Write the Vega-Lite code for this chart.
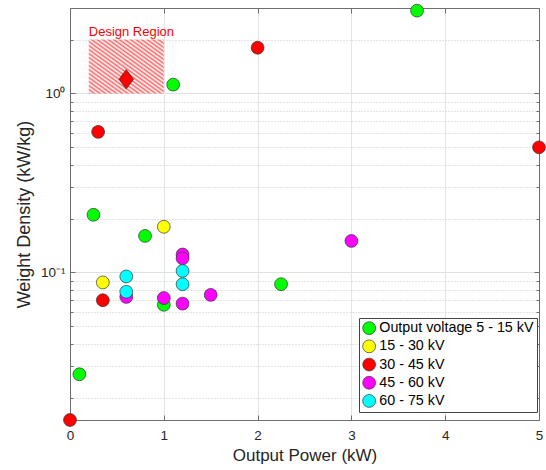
{
  "$schema": "https://vega.github.io/schema/vega-lite/v6.json",
  "width": 469,
  "height": 412,
  "autosize": "none",
  "padding": {"left": 70, "top": 8, "right": 7, "bottom": 50},
  "background": "white",
  "config": {
    "view": {"stroke": null},
    "font": "Liberation Sans",
    "axis": {
      "domainColor": "#6e6e6e",
      "domainWidth": 1,
      "tickColor": "#6e6e6e",
      "labelColor": "#262626",
      "titleColor": "#262626",
      "labelFont": "Liberation Sans",
      "titleFont": "Liberation Sans",
      "titleFontWeight": "normal",
      "labelFontSize": 13.5,
      "titleFontSize": 17
    },
    "legend": {
      "strokeColor": "#444444",
      "fillColor": "white",
      "padding": 3,
      "labelFont": "Liberation Sans",
      "labelFontSize": 14.3,
      "labelColor": "#000000",
      "symbolSize": 165,
      "symbolStrokeWidth": 0.7,
      "symbolStrokeColor": "#333333",
      "symbolType": "circle",
      "rowPadding": 2.2,
      "labelOffset": 3,
      "cornerRadius": 0
    }
  },
  "datasets": {
    "region": [{"P1": 0.2, "P2": 1.0, "W1": 1.0, "W2": 2.0, "label": "Design Region"}],
    "optimum": [{"P": 0.6, "W": 1.2}],
    "points": [
      {"P": 3.7, "W": 2.9, "V": "Output voltage 5 - 15 kV"},
      {"P": 1.1, "W": 1.12, "V": "Output voltage 5 - 15 kV"},
      {"P": 0.25, "W": 0.21, "V": "Output voltage 5 - 15 kV"},
      {"P": 0.8, "W": 0.16, "V": "Output voltage 5 - 15 kV"},
      {"P": 1.0, "W": 0.066, "V": "Output voltage 5 - 15 kV"},
      {"P": 2.25, "W": 0.086, "V": "Output voltage 5 - 15 kV"},
      {"P": 0.1, "W": 0.027, "V": "Output voltage 5 - 15 kV"},
      {"P": 1.0, "W": 0.18, "V": "15 - 30 kV"},
      {"P": 0.35, "W": 0.088, "V": "15 - 30 kV"},
      {"P": 0.3, "W": 0.61, "V": "30 - 45 kV"},
      {"P": 2.0, "W": 1.8, "V": "30 - 45 kV"},
      {"P": 5.0, "W": 0.5, "V": "30 - 45 kV"},
      {"P": 0.35, "W": 0.07, "V": "30 - 45 kV"},
      {"P": 0.0, "W": 0.015, "V": "30 - 45 kV"},
      {"P": 3.0, "W": 0.15, "V": "45 - 60 kV"},
      {"P": 1.2, "W": 0.126, "V": "45 - 60 kV"},
      {"P": 1.2, "W": 0.12, "V": "45 - 60 kV"},
      {"P": 0.6, "W": 0.073, "V": "45 - 60 kV"},
      {"P": 1.0, "W": 0.072, "V": "45 - 60 kV"},
      {"P": 1.2, "W": 0.067, "V": "45 - 60 kV"},
      {"P": 1.5, "W": 0.075, "V": "45 - 60 kV"},
      {"P": 0.6, "W": 0.095, "V": "60 - 75 kV"},
      {"P": 0.6, "W": 0.078, "V": "60 - 75 kV"},
      {"P": 1.2, "W": 0.102, "V": "60 - 75 kV"},
      {"P": 1.2, "W": 0.086, "V": "60 - 75 kV"}
    ]
  },
  "layer": [
    {
      "data": {"name": "region"},
      "mark": {
        "type": "rect",
        "fill": {
          "gradient": "linear", "x1": 0, "y1": 1, "x2": 1, "y2": 0,
          "stops": [
            {"offset": 0, "color": "#ff0000"}, {"offset": 0.0185, "color": "#ffffff"},
            {"offset": 0.037, "color": "#ff0000"}, {"offset": 0.0556, "color": "#ffffff"},
            {"offset": 0.0741, "color": "#ff0000"}, {"offset": 0.0926, "color": "#ffffff"},
            {"offset": 0.1111, "color": "#ff0000"}, {"offset": 0.1296, "color": "#ffffff"},
            {"offset": 0.1481, "color": "#ff0000"}, {"offset": 0.1667, "color": "#ffffff"},
            {"offset": 0.1852, "color": "#ff0000"}, {"offset": 0.2037, "color": "#ffffff"},
            {"offset": 0.2222, "color": "#ff0000"}, {"offset": 0.2407, "color": "#ffffff"},
            {"offset": 0.2593, "color": "#ff0000"}, {"offset": 0.2778, "color": "#ffffff"},
            {"offset": 0.2963, "color": "#ff0000"}, {"offset": 0.3148, "color": "#ffffff"},
            {"offset": 0.3333, "color": "#ff0000"}, {"offset": 0.3519, "color": "#ffffff"},
            {"offset": 0.3704, "color": "#ff0000"}, {"offset": 0.3889, "color": "#ffffff"},
            {"offset": 0.4074, "color": "#ff0000"}, {"offset": 0.4259, "color": "#ffffff"},
            {"offset": 0.4444, "color": "#ff0000"}, {"offset": 0.463, "color": "#ffffff"},
            {"offset": 0.4815, "color": "#ff0000"}, {"offset": 0.5, "color": "#ffffff"},
            {"offset": 0.5185, "color": "#ff0000"}, {"offset": 0.537, "color": "#ffffff"},
            {"offset": 0.5556, "color": "#ff0000"}, {"offset": 0.5741, "color": "#ffffff"},
            {"offset": 0.5926, "color": "#ff0000"}, {"offset": 0.6111, "color": "#ffffff"},
            {"offset": 0.6296, "color": "#ff0000"}, {"offset": 0.6481, "color": "#ffffff"},
            {"offset": 0.6667, "color": "#ff0000"}, {"offset": 0.6852, "color": "#ffffff"},
            {"offset": 0.7037, "color": "#ff0000"}, {"offset": 0.7222, "color": "#ffffff"},
            {"offset": 0.7407, "color": "#ff0000"}, {"offset": 0.7593, "color": "#ffffff"},
            {"offset": 0.7778, "color": "#ff0000"}, {"offset": 0.7963, "color": "#ffffff"},
            {"offset": 0.8148, "color": "#ff0000"}, {"offset": 0.8333, "color": "#ffffff"},
            {"offset": 0.8519, "color": "#ff0000"}, {"offset": 0.8704, "color": "#ffffff"},
            {"offset": 0.8889, "color": "#ff0000"}, {"offset": 0.9074, "color": "#ffffff"},
            {"offset": 0.9259, "color": "#ff0000"}, {"offset": 0.9444, "color": "#ffffff"},
            {"offset": 0.963, "color": "#ff0000"}, {"offset": 0.9815, "color": "#ffffff"},
            {"offset": 1, "color": "#ff0000"}
          ]
        },
        "opacity": 0.6
      },
      "encoding": {
        "x": {
          "field": "P1", "type": "quantitative",
          "scale": {"domain": [0, 5], "nice": false, "zero": false},
          "axis": {
            "orient": "bottom", "values": [0, 1, 2, 3, 4, 5], "format": "d",
            "grid": true, "gridColor": "#e4e4e4", "gridWidth": 1,
            "tickSize": -5, "labelPadding": 13, "labelFlush": false, "labelOverlap": false,
            "title": "Output Power (kW)", "titlePadding": 6
          }
        },
        "x2": {"field": "P2"},
        "y": {
          "field": "W1", "type": "quantitative",
          "scale": {"type": "log", "domain": [0.015, 3], "nice": false},
          "axis": {
            "orient": "left",
            "values": [0.02, 0.03, 0.04, 0.05, 0.06, 0.07, 0.08, 0.09, 0.1, 0.2, 0.3, 0.4, 0.5, 0.6, 0.7, 0.8, 0.9, 1, 2],
            "labelExpr": "datum.value == 1 ? '10⁰' : datum.value == 0.1 ? '10⁻¹' : ''",
            "labelOverlap": false,
            "grid": true,
            "gridColor": {"condition": {"test": "datum.value == 1 || datum.value == 0.1", "value": "#e0e0e0"}, "value": "#c8c8c8"},
            "gridDash": {"condition": {"test": "datum.value == 1 || datum.value == 0.1", "value": []}, "value": [1, 2]},
            "gridWidth": 1,
            "tickSize": {"condition": {"test": "datum.value == 1 || datum.value == 0.1", "value": -5}, "value": -3},
            "labelPadding": 10,
            "title": "Weight Density (kW/kg)", "titleFontSize": 18, "titlePadding": 7
          }
        },
        "y2": {"field": "W2"}
      }
    },
    {
      "data": {"name": "region"},
      "mark": {"type": "text", "align": "left", "baseline": "alphabetic", "dy": -4, "fontSize": 13, "color": "#ff0000", "font": "Liberation Sans"},
      "encoding": {
        "x": {"field": "P1", "type": "quantitative", "axis": null},
        "y": {
          "field": "W2", "type": "quantitative",
          "axis": {
            "orient": "right",
            "values": [0.02, 0.03, 0.04, 0.05, 0.06, 0.07, 0.08, 0.09, 0.1, 0.2, 0.3, 0.4, 0.5, 0.6, 0.7, 0.8, 0.9, 1, 2],
            "tickSize": {"condition": {"test": "datum.value == 1 || datum.value == 0.1", "value": -5}, "value": -3},
            "labels": false, "grid": false, "title": null
          }
        },
        "text": {"field": "label"}
      }
    },
    {
      "data": {"name": "optimum"},
      "mark": {"type": "point", "shape": "M0,-1L0.76,0L0,1L-0.76,0Z", "filled": true, "fill": "#ff0000", "stroke": "#333333", "strokeWidth": 0.7, "size": 372, "opacity": 1},
      "encoding": {
        "x": {"field": "P", "type": "quantitative", "axis": null},
        "y": {"field": "W", "type": "quantitative", "axis": null}
      }
    },
    {
      "data": {"name": "points"},
      "mark": {"type": "point", "shape": "circle", "filled": true, "size": 165, "stroke": "#333333", "strokeWidth": 0.7, "opacity": 1},
      "encoding": {
        "x": {
          "field": "P", "type": "quantitative",
          "axis": {"orient": "top", "values": [0, 1, 2, 3, 4, 5], "tickSize": -5, "labels": false, "grid": false, "title": null}
        },
        "y": {"field": "W", "type": "quantitative", "axis": null},
        "color": {
          "field": "V", "type": "nominal",
          "scale": {
            "domain": ["Output voltage 5 - 15 kV", "15 - 30 kV", "30 - 45 kV", "45 - 60 kV", "60 - 75 kV"],
            "range": ["#00ff00", "#ffff00", "#ff0000", "#ff00ff", "#00ffff"]
          },
          "legend": {"title": null, "orient": "none", "legendX": 289, "legendY": 310}
        }
      }
    }
  ],
  "resolve": {"axis": {"x": "independent", "y": "independent"}}
}
